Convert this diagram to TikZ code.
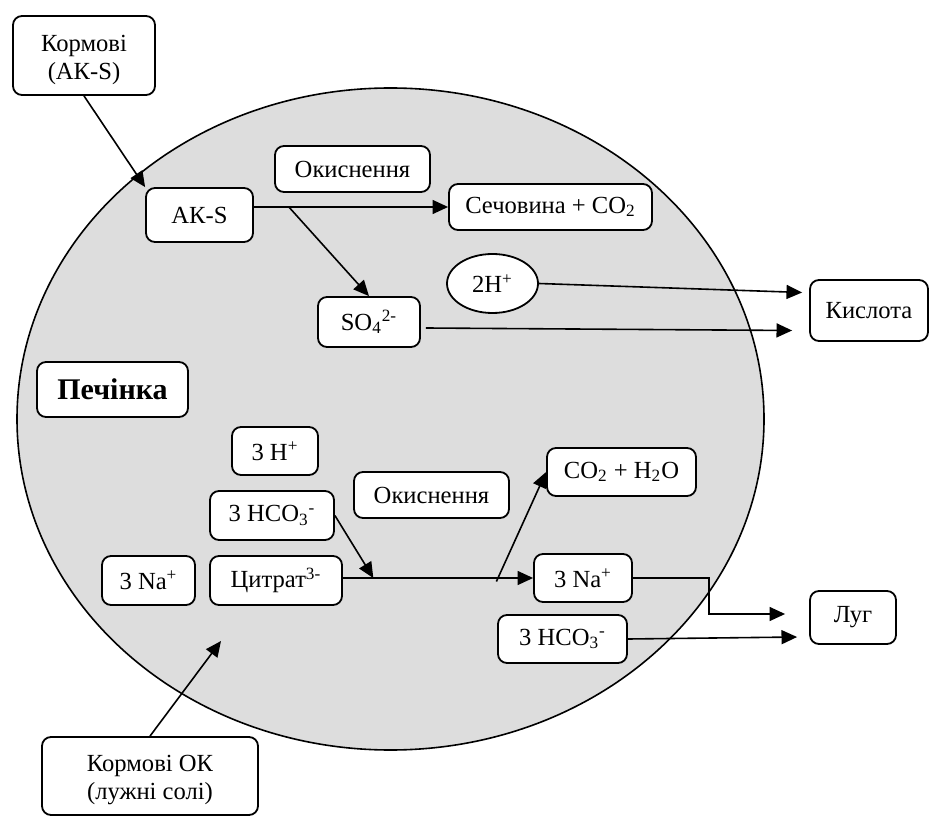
\documentclass[tikz,border=0pt]{standalone}
\usepackage{fontspec}
\setmainfont{Liberation Serif}
\usetikzlibrary{arrows.meta,calc,shapes.geometric}
\definecolor{liver}{RGB}{221,221,221}
\begin{document}
\begin{tikzpicture}[x=0.5pt,y=-0.5pt,
  font=\fontsize{12.3}{14}\selectfont,
  box/.style={draw, rounded corners=4.5pt, fill=white, line width=0.9pt, align=center, inner sep=0pt},
  sz/.style 2 args={minimum width=#1*0.5pt, minimum height=#2*0.5pt},
  arr/.style={line width=0.8pt, -{Triangle[length=7.8pt,width=7pt]}}]
\useasboundingbox (0,0) rectangle (929,822);
% liver
\draw[fill=liver, line width=0.8pt] (390.5,419) ellipse [x radius=373.5, y radius=331];
% nodes
\node[box, sz={142}{79}] (k1) at (84,55.5) {\rule{0pt}{12.2pt}Кормові\\(АК-S)};
\node[box, sz={107}{54}] (aks) at (199.5,215) {АК-S};
\node[box, sz={155}{46}] (ok1) at (352.5,169) {Окиснення};
\node[box, sz={203}{46}] (sech) at (550.5,207) {Сечовина + CO\textsubscript{2}};
\node[draw, ellipse, fill=white, line width=0.9pt, inner sep=0pt, sz={91}{59}] (h2) at (492.5,283.5) {2H\textsuperscript{+}};
\node[box, sz={102}{50}] (so4) at (369,322) {SO\textsubscript{4}\textsuperscript{2-}};
\node[box, sz={118}{61}] (kisl) at (869,310.5) {Кислота};
\node[box, sz={151}{55}, font=\fontsize{15}{17}\selectfont\bfseries] (pech) at (112.5,389.5) {Печінка};
\node[box, sz={86}{48}] (h3) at (275,451) {3 H\textsuperscript{+}};
\node[box, sz={124}{49}] (hco3L) at (272,515.5) {3 HCO\textsubscript{3}\textsuperscript{-}};
\node[box, sz={155}{46}] (ok2) at (431.5,495) {Окиснення};
\node[box, sz={93}{49}] (naL) at (148.5,580.5) {3 Na\textsuperscript{+}};
\node[box, sz={132}{49}] (cit) at (276,580.5) {Цитрат\textsuperscript{3-}};
\node[box, sz={149}{48}] (co2) at (621.5,472) {CO\textsubscript{2} + H\textsubscript{2}O};
\node[box, sz={98}{48}] (naR) at (583,578) {3 Na\textsuperscript{+}};
\node[box, sz={129}{48}] (hco3R) at (562.5,639) {3 HCO\textsubscript{3}\textsuperscript{-}};
\node[box, sz={86}{53}] (lug) at (853,617.5) {Луг};
\node[box, sz={216}{78}] (k2) at (150,776) {\rule{0pt}{12.6pt}Кормові ОК\\(лужні солі)};
% helper coordinates
\coordinate (b1) at ($(aks.east |- sech.west)!0.18!(sech.west)$);
\coordinate (b2) at ($(cit.east)!0.16!(naR.west)$);
\coordinate (b3) at ($(cit.east)!0.807!(naR.west)+(0,3)$);
\coordinate (kE1) at ($(kisl.west)+(-7,-18)$);
\coordinate (kE2) at ($(kisl.west)+(-17,20)$);
\coordinate (lE1) at ($(lug.west)+(-24,-3.5)$);
\coordinate (lE2) at ($(lug.west)+(-12,19.5)$);
\coordinate (inOK) at (221,641);
% connectors
\draw[arr] (k1.south) -- (aks.north west);
\draw[arr] (aks.east |- sech.west) -- (sech.west);
\draw[arr] (b1) -- (so4.north);
\draw[arr] (h2.east) -- (kE1);
\draw[arr] ($(so4.east)+(5,6)$) -- (kE2);
\draw[arr] (hco3L.east) -- (b2 |- naR.west);
\draw[arr] (cit.east |- naR.west) -- (naR.west);
\draw[arr] (b3) -- (co2.west);
\draw[arr] (naR.east) -- ++(76,0) |- (lE1);
\draw[arr] (hco3R.east) -- (lE2);
\draw[arr] (k2.north) -- (inOK);
\end{tikzpicture}
\end{document}
